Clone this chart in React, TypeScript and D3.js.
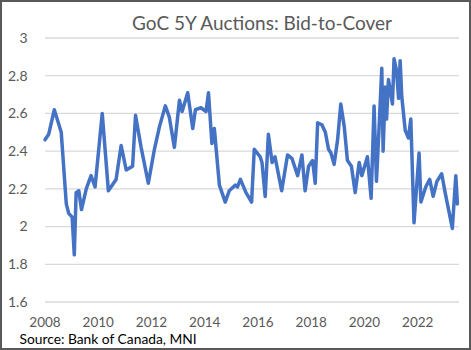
import React from "react";
import * as d3 from "d3";

const title = "GoC 5Y Auctions: Bid-to-Cover";
const source = "Source: Bank of Canada, MNI";

// auction dates as decimal years
const dates = [
  2008.0, 2008.14, 2008.35, 2008.61, 2008.8, 2008.89, 2009.02, 2009.1, 2009.17, 2009.27,
  2009.37, 2009.55, 2009.73, 2009.88, 2010.15, 2010.38, 2010.67, 2010.86, 2011.05, 2011.29,
  2011.4, 2011.61, 2011.88, 2012.11, 2012.3, 2012.52, 2012.67, 2012.86, 2013.05, 2013.15,
  2013.36, 2013.55, 2013.65, 2013.86, 2014.05, 2014.14, 2014.27, 2014.36, 2014.55, 2014.77,
  2014.92, 2015.15, 2015.23, 2015.34, 2015.55, 2015.76, 2015.86, 2016.08, 2016.15, 2016.27,
  2016.39, 2016.53, 2016.64, 2016.89, 2017.11, 2017.28, 2017.49, 2017.65, 2017.77, 2017.9,
  2018.05, 2018.15, 2018.24, 2018.4, 2018.53, 2018.65, 2018.74, 2018.86, 2018.99, 2019.11,
  2019.24, 2019.36, 2019.51, 2019.65, 2019.8, 2019.9, 2020.11, 2020.25, 2020.36, 2020.45,
  2020.55, 2020.65, 2020.7, 2020.78, 2020.83, 2020.9, 2020.96, 2021.05, 2021.11, 2021.2,
  2021.28, 2021.34, 2021.4, 2021.53, 2021.65, 2021.74, 2021.86, 2022.05, 2022.12, 2022.3,
  2022.45, 2022.58, 2022.72, 2022.9, 2023.03, 2023.3, 2023.43, 2023.49,
];

const bidToCover = [
  2.46, 2.49, 2.62, 2.5, 2.12, 2.07, 2.05, 1.85, 2.18, 2.19,
  2.09, 2.2, 2.27, 2.21, 2.6, 2.19, 2.25, 2.43, 2.3, 2.32,
  2.59, 2.42, 2.23, 2.41, 2.53, 2.64, 2.58, 2.42, 2.67, 2.61,
  2.71, 2.52, 2.62, 2.63, 2.61, 2.71, 2.44, 2.52, 2.22, 2.13,
  2.19, 2.22, 2.21, 2.25, 2.18, 2.13, 2.41, 2.37, 2.34, 2.16,
  2.49, 2.34, 2.37, 2.19, 2.38, 2.36, 2.27, 2.38, 2.19, 2.32,
  2.35, 2.23, 2.55, 2.54, 2.5, 2.41, 2.39, 2.33, 2.46, 2.65,
  2.53, 2.35, 2.32, 2.18, 2.34, 2.27, 2.37, 2.15, 2.64, 2.24,
  2.53, 2.84, 2.4, 2.74, 2.57, 2.78, 2.73, 2.65, 2.89, 2.83,
  2.68, 2.88, 2.69, 2.51, 2.47, 2.57, 2.02, 2.39, 2.13, 2.21,
  2.25, 2.16, 2.24, 2.28, 2.18, 1.99, 2.27, 2.12,
];

const xTicks = [2008, 2010, 2012, 2014, 2016, 2018, 2020, 2022];
const yTicks = [1.6, 1.8, 2, 2.2, 2.4, 2.6, 2.8, 3];

const W = 471;
const H = 350;
const font = "Lato, 'Open Sans', sans-serif";

export default function App() {
  const x = d3.scaleLinear().domain([2008, 2023.55]).range([45, 459]);
  const y = d3.scaleLinear().domain([1.6, 3]).range([302, 38]);
  const pts: [number, number][] = dates.map((d, i) => [d, bidToCover[i]]);
  const line = d3
    .line<[number, number]>()
    .x((d) => x(d[0]))
    .y((d) => y(d[1]));

  return (
    <svg
      width={W}
      height={H}
      style={{ position: "absolute", left: 0, top: 0, display: "block" }}
    >
      <rect x={1} y={1} width={W - 2} height={H - 2} fill="#fff" stroke="#595959" strokeWidth={2} />
      <text x={262} y={29.5} textAnchor="middle" fontFamily={font} fontSize={19} fill="#595959">
        {title}
      </text>
      {yTicks.map((t) => (
        <g key={t}>
          <line x1={45} x2={459} y1={y(t)} y2={y(t)} stroke="#D9D9D9" strokeWidth={1.3} />
          <text
            x={27.5}
            y={y(t)}
            dy="0.35em"
            textAnchor="end"
            fontFamily={font}
            fontSize={14}
            fill="#595959"
          >
            {d3.format("~g")(t)}
          </text>
        </g>
      ))}
      {xTicks.map((t) => (
        <text
          key={t}
          x={x(t)}
          y={327}
          textAnchor="middle"
          fontFamily={font}
          fontSize={13.5}
          fill="#595959"
        >
          {t}
        </text>
      ))}
      <path
        d={line(pts) || ""}
        fill="none"
        stroke="#4472C4"
        strokeWidth={3.5}
        strokeLinejoin="round"
        strokeLinecap="round"
      />
      <text x={19.5} y={344} fontFamily={font} fontSize={13.8} fill="#000">
        {source}
      </text>
    </svg>
  );
}
